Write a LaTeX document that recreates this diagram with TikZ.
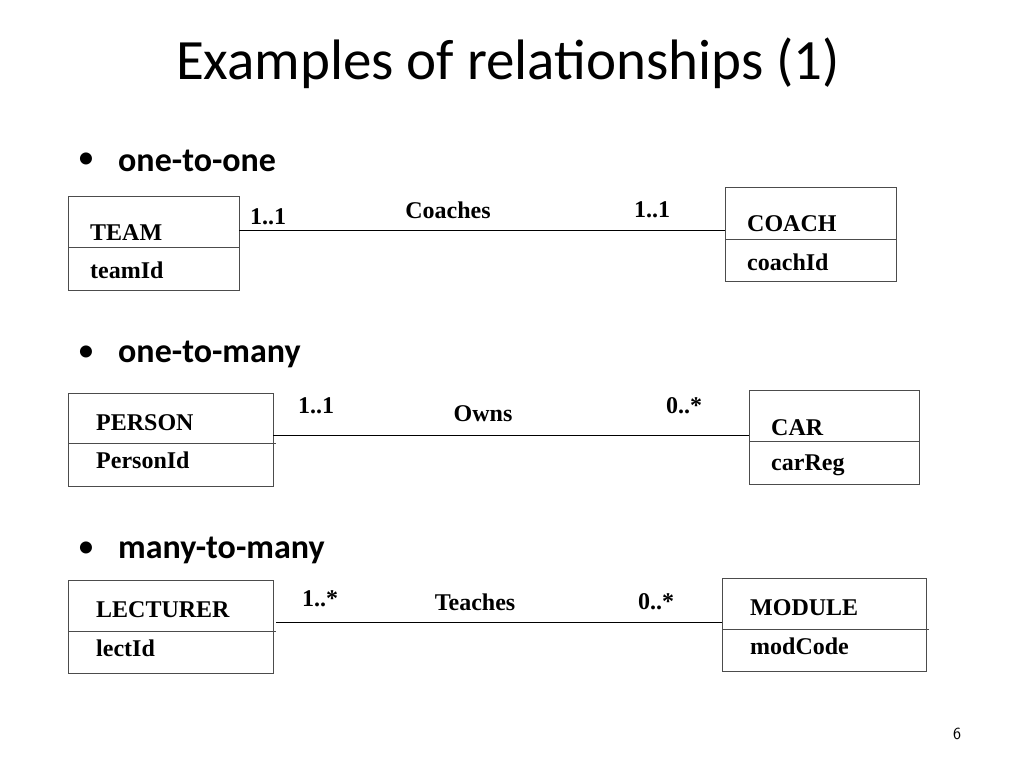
\documentclass[tikz,border=0pt]{standalone}
\usepackage{fontspec}
\setmainfont{Liberation Serif}
\newfontfamily\slidefont{Carlito}
\tikzset{
  entity/.style={draw=black!70, line width=0.8pt, anchor=north west, inner sep=0pt},
  attr/.style={anchor=west, inner sep=0pt, font=\bfseries\fontsize{24}{24}\selectfont},
  mult/.style={font=\bfseries\fontsize{24}{24}\selectfont},
  bullet/.style={anchor=west, inner sep=0pt, font=\slidefont\bfseries\fontsize{34}{34}\selectfont}
}
\begin{document}
\begin{tikzpicture}[x=1pt,y=-1pt]
  \useasboundingbox (0,0) rectangle (1024,768);
  \node[font=\slidefont\fontsize{57}{57}\selectfont] (title) at (508,63) {Examples of relationships (1)};
  % one-to-one
  \node[font=\slidefont\fontsize{34}{34}\selectfont] (d1) at (86,161) {•};
  \node[bullet] (b1) at (118,161) {one-to-one};
  \node[entity, minimum width=171, minimum height=94] (team) at (68,196) {};
  \draw[black!70] (68,247) -- (239,247);
  \node[attr] (teamn) at (90,233) {TEAM};
  \node[attr] (teamk) at (90,270) {teamId};
  \node[entity, minimum width=171, minimum height=94] (coach) at (725,187) {};
  \draw[black!70] (725,239) -- (896,239);
  \node[attr] (coachn) at (747,224) {COACH};
  \node[attr] (coachk) at (747,262) {coachId};
  \coordinate (l1a) at (239,230);
  \draw (l1a) -- (l1a -| coach.west);
  \node[mult] (m1a) at (268,217) {1..1};
  \node[mult] (r1) at (448,210) {Coaches};
  \node[mult] (m1b) at (652,210) {1..1};
  % one-to-many
  \node[font=\slidefont\fontsize{34}{34}\selectfont] (d2) at (86,354) {•};
  \node[bullet] (b2) at (118,354) {one-to-many};
  \node[entity, minimum width=205, minimum height=93] (person) at (68,393) {};
  \draw[black!70] (68,443) -- (276,443);
  \node[attr] (personn) at (96,423) {PERSON};
  \node[attr] (personk) at (96,460) {PersonId};
  \node[entity, minimum width=170, minimum height=94] (car) at (749,390) {};
  \draw[black!70] (749,441) -- (919,441);
  \node[attr] (carn) at (771,428) {CAR};
  \node[attr] (cark) at (771,465) {carReg};
  \coordinate (l2a) at (273,435);
  \draw (l2a) -- (l2a -| car.west);
  \node[mult] (m2a) at (316,406) {1..1};
  \node[mult] (r2) at (483,414) {Owns};
  \node[mult] (m2b) at (684,406) {0..*};
  % many-to-many
  \node[font=\slidefont\fontsize{34}{34}\selectfont] (d3) at (86,550) {•};
  \node[bullet] (b3) at (118,550) {many-to-many};
  \node[entity, minimum width=205, minimum height=93] (lect) at (68,580) {};
  \draw[black!70] (68,631) -- (276,631);
  \node[attr] (lectn) at (96,610) {LECTURER};
  \node[attr] (lectk) at (96,648) {lectId};
  \node[entity, minimum width=204, minimum height=93] (module) at (722,578) {};
  \draw[black!70] (722,629) -- (929,629);
  \node[attr] (modulen) at (750,608) {MODULE};
  \node[attr] (modulek) at (750,646) {modCode};
  \coordinate (l3a) at (276,622);
  \draw (l3a) -- (l3a -| module.west);
  \node[mult] (m3a) at (320,599) {1..*};
  \node[mult] (r3) at (475,602) {Teaches};
  \node[mult] (m3b) at (656,602) {0..*};
  \node[font=\sffamily\fontsize{17}{17}\selectfont] (page) at (957,734) {6};
\end{tikzpicture}
\end{document}
